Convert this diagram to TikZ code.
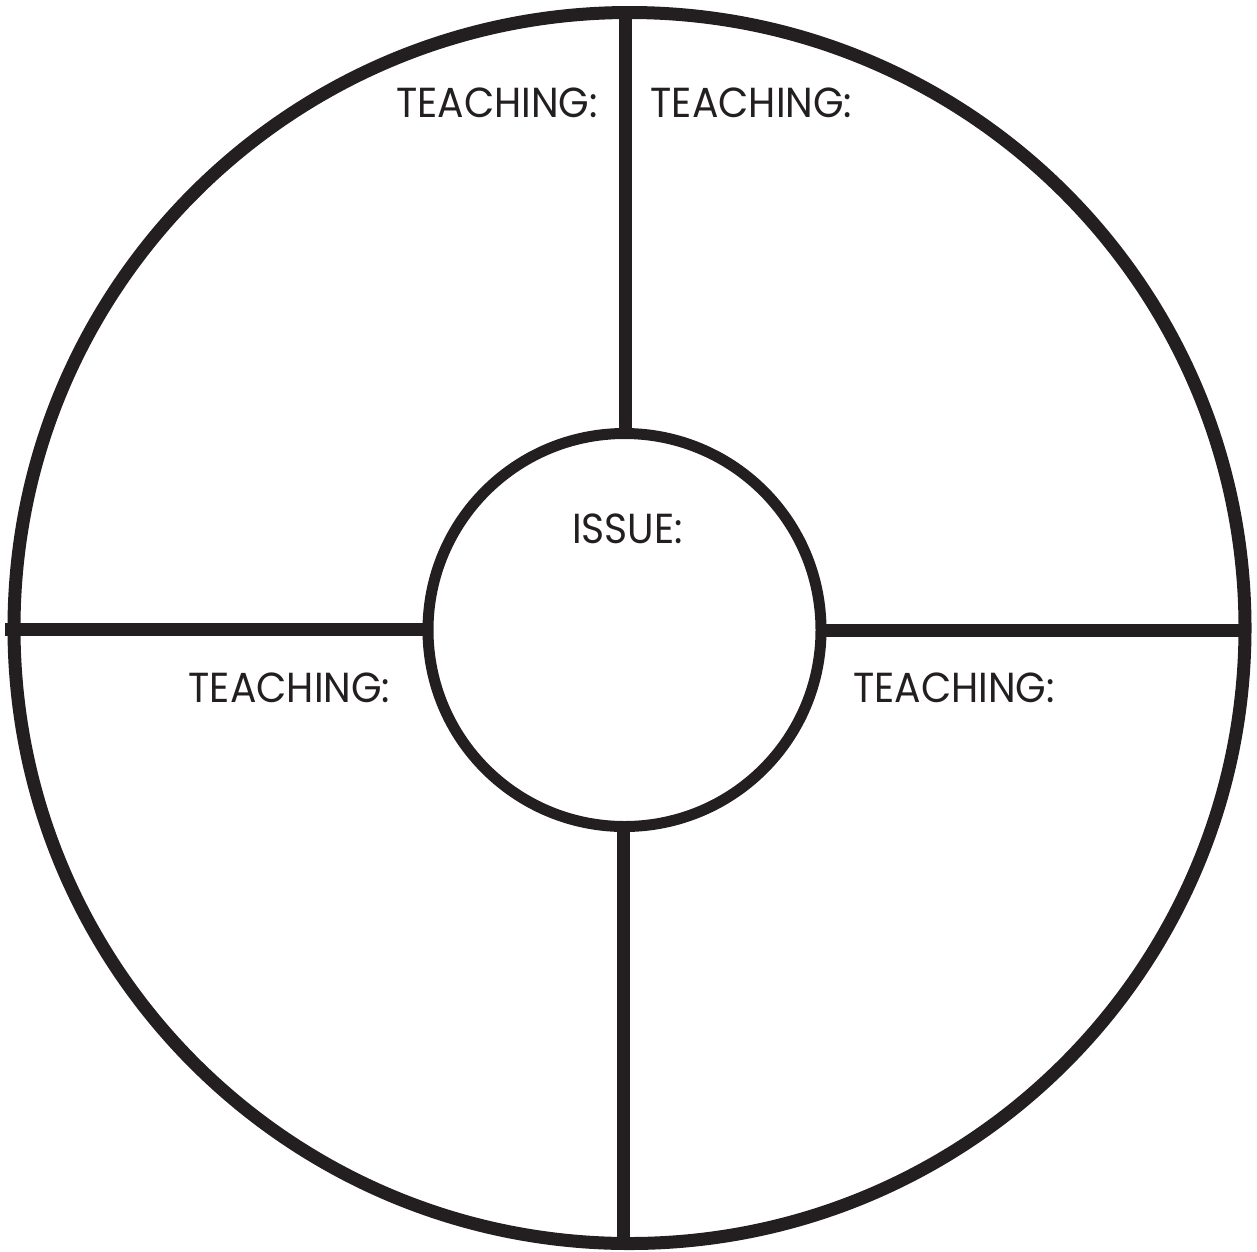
\documentclass[tikz,border=0pt]{standalone}
\usepackage{fontspec}
\setmainfont{Poppins}
\definecolor{ink}{HTML}{231F20}
\newcommand{\squeezetext}[1]{\scalebox{0.935}[1]{#1}}
\begin{document}
\begin{tikzpicture}[x=1pt,y=-1pt,
  ring/.style={circle,draw=ink,inner sep=0pt,outer sep=0pt},
  spoke/.style={draw=ink,line width=13pt},
  lbl/.style={anchor=base,inner sep=0pt,text=ink,font=\fontsize{42}{42}\selectfont}]
\useasboundingbox (0,0) rectangle (1257,1251);
\node[ring,line width=13pt,minimum size=1231pt] (outer) at (629.5,628) {};
\node[ring,line width=11pt,minimum size=393pt] (inner) at (624.5,630) {};
\coordinate (topend) at (625.5,10);
\coordinate (botend) at (623.5,1246);
\coordinate (leftend) at (5,629);
\coordinate (rightend) at (1245,630);
\coordinate (itop) at (625.5,434);
\coordinate (ibot) at (623.5,826);
\coordinate (ileft) at (428,629);
\coordinate (iright) at (821,630);
\draw[spoke] (topend) -- (itop);
\draw[spoke] (ibot) -- (botend);
\draw[spoke] (leftend) -- (ileft);
\draw[spoke] (iright) -- (rightend);
\node[lbl] (t1) at (497,117) {\squeezetext{TEACHING:}};
\node[lbl] (t2) at (751.5,117) {\squeezetext{TEACHING:}};
\node[lbl] (t3) at (289.5,702.5) {\squeezetext{TEACHING:}};
\node[lbl] (t4) at (954,702.5) {\squeezetext{TEACHING:}};
\node[lbl] (iss) at (627.5,543) {\squeezetext{ISSUE:}};
\end{tikzpicture}
\end{document}
